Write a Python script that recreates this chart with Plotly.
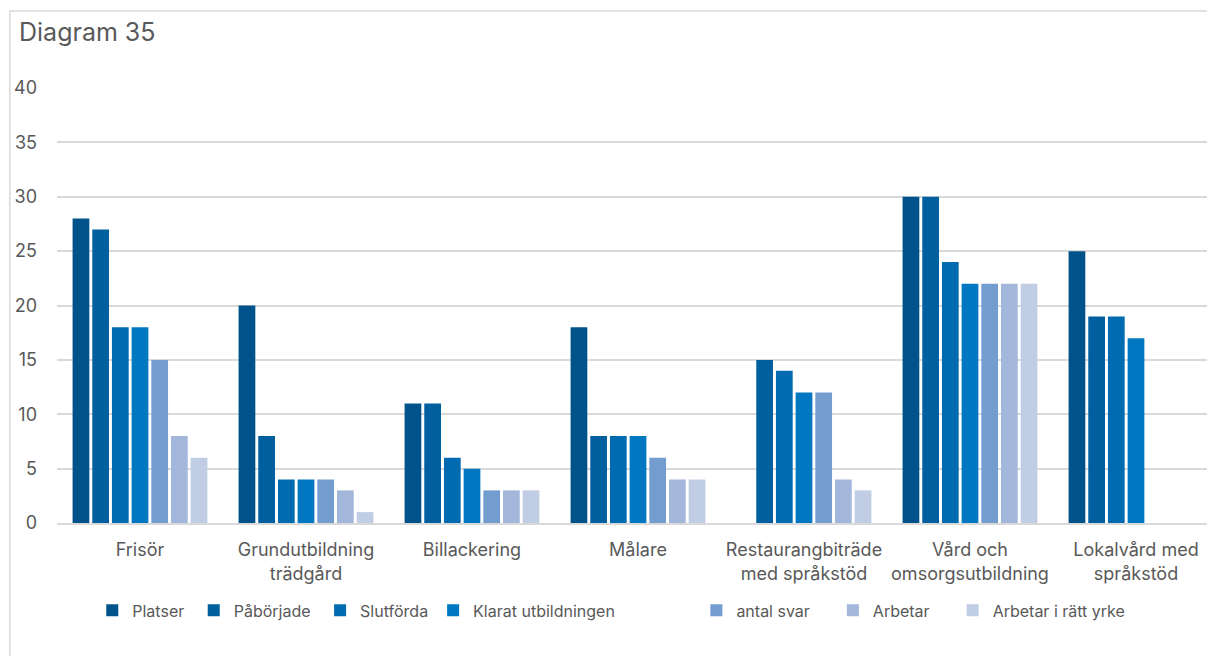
import plotly.graph_objects as go

kategorier = ["Frisör", "Grundutbildning<br>trädgård", "Billackering", "Målare",
              "Restaurangbiträde<br>med språkstöd", "Vård och<br>omsorgsutbildning",
              "Lokalvård med<br>språkstöd"]

platser = [28, 20, 11, 18, None, 30, 25]
paborjade = [27, 8, 11, 8, 15, 30, 19]
slutforda = [18, 4, 6, 8, 14, 24, 19]
klarat = [18, 4, 5, 8, 12, 22, 17]
antal_svar = [15, 4, 3, 6, 12, 22, None]
arbetar = [8, 3, 3, 4, 4, 22, None]
arbetar_ratt_yrke = [6, 1, 3, 4, 3, 22, None]

serier = [
    ("Platser", platser, "#00528a"),
    ("Påbörjade", paborjade, "#005f9e"),
    ("Slutförda", slutforda, "#006bb0"),
    ("Klarat utbildningen", klarat, "#0078c1"),
    ("antal svar", antal_svar, "#749dcf"),
    ("Arbetar", arbetar, "#a3b7da"),
    ("Arbetar i rätt yrke", arbetar_ratt_yrke, "#c0cde5"),
]

# extra luft efter legendtexterna, som i originalet
luft = [1, 1, 0, 17, 4, 4, 0]

fig = go.Figure()
for (namn, varden, farg), n in zip(serier, luft):
    fig.add_trace(go.Bar(
        x=kategorier, y=varden, name=namn + "\u00a0" * n,
        marker=dict(color=farg, line=dict(width=0)),
    ))

grey = "#595959"
fig.update_layout(
    width=1215, height=656,
    margin=dict(l=49, r=4, t=80, b=141, autoexpand=False),
    paper_bgcolor="white", plot_bgcolor="white",
    font=dict(family="Inter, Arial, sans-serif", size=17, color=grey),
    barmode="group", bargap=0.17, bargroupgap=0.15,
    showlegend=True,
    legend=dict(orientation="h", x=0.477, xanchor="center", y=-0.201, yanchor="middle",
                font=dict(size=16, color=grey), itemwidth=30, traceorder="normal"),
    annotations=[dict(text="Diagram 35", xref="paper", yref="paper",
                      x=-0.0345, y=1.129, xanchor="left", yanchor="middle",
                      showarrow=False, font=dict(size=25, color=grey))],
    shapes=[dict(type="rect", xref="paper", yref="paper",
                 x0=-0.0406, x1=1.02, y0=-0.35, y1=1.177,
                 line=dict(color="#d9d9d9", width=1.5), layer="below")],
)
fig.update_yaxes(range=[0, 40], dtick=5, showgrid=True, gridcolor="#d9d9d9", gridwidth=1.5,
                 zeroline=False, showline=False, ticks="", ticklabelstandoff=19,
                 tickfont=dict(size=18, color=grey))
fig.update_xaxes(showline=True, linecolor="#d9d9d9", linewidth=1.5, ticks="",
                 ticklabelstandoff=10, tickfont=dict(size=18, color=grey))

fig.write_html("out.html")
